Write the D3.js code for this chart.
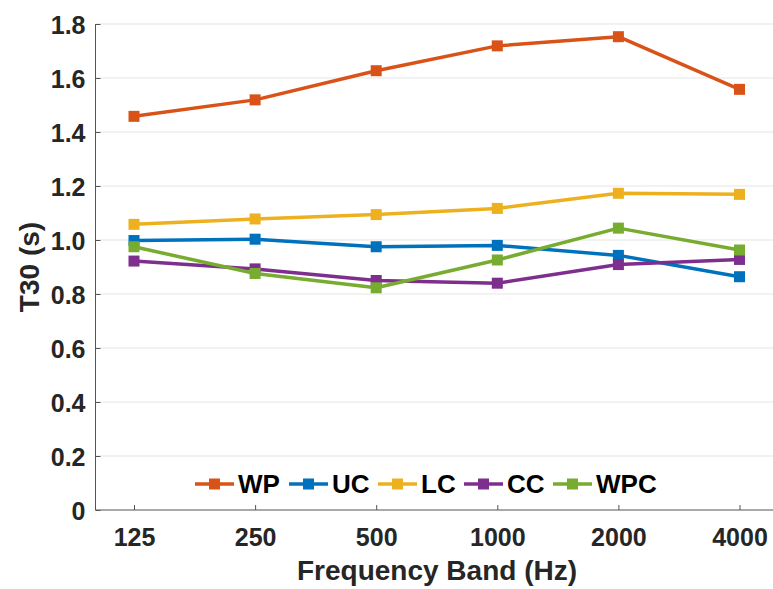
<!DOCTYPE html>
<html>
<head>
<meta charset="utf-8">
<script src="https://cdn.jsdelivr.net/npm/d3@7/dist/d3.min.js"></script>
<style>
  body { margin: 0; background: #fff; }
  svg { display: block; font-family: "Liberation Sans", Arial, sans-serif; }
</style>
</head>
<body>
<div id="chart"></div>
<script>
// frequency bands on the x axis
var bands = ["125", "250", "500", "1000", "2000", "4000"];
var yTicks = [0, 0.2, 0.4, 0.6, 0.8, 1.0, 1.2, 1.4, 1.6, 1.8];

// T30 values
var seriesNames = ["WP", "UC", "LC", "CC", "WPC"];
var seriesColors = ["#D95319", "#0072BD", "#EDB120", "#7E2F8E", "#77AC30"];
var wp  = [1.458, 1.519, 1.627, 1.719, 1.753, 1.558];
var uc  = [0.998, 1.003, 0.975, 0.980, 0.943, 0.864];
var lc  = [1.058, 1.078, 1.094, 1.117, 1.173, 1.169];
var cc  = [0.922, 0.893, 0.850, 0.840, 0.909, 0.928];
var wpc = [0.975, 0.876, 0.823, 0.926, 1.044, 0.963];
var seriesValues = [wp, uc, lc, cc, wpc];

var width = 773, height = 589;
var plotLeft = 95.5, plotRight = 773, plotTop = 24, plotBottom = 510;

var svg = d3.select("#chart").append("svg")
  .attr("width", width)
  .attr("height", height);

var x = d3.scalePoint().domain(bands).range([134, 739.5]);
var y = d3.scaleLinear().domain([0, 1.8]).range([plotBottom, plotTop]);

// grid lines
svg.append("g")
  .selectAll("line")
  .data(yTicks.filter(function(d) { return d > 0; }))
  .enter().append("line")
  .attr("x1", plotLeft).attr("x2", plotRight)
  .attr("y1", function(d) { return y(d); })
  .attr("y2", function(d) { return y(d); })
  .style("stroke", "#e6e6e6")
  .style("stroke-width", 1.2);

// y axis
var yAxis = svg.append("g")
  .attr("transform", "translate(" + plotLeft + ",0)")
  .call(d3.axisRight(y).tickValues(yTicks).tickSize(5).tickFormat(function(d) {
    return d === 0 ? "0" : d3.format(".1f")(d);
  }));
yAxis.select(".domain").attr("d", "M0," + plotTop + "V" + plotBottom).style("stroke", "#555");
yAxis.selectAll(".tick line").style("stroke", "#555");
yAxis.selectAll(".tick text")
  .attr("x", -10)
  .attr("text-anchor", "end")
  .attr("dy", "0.36em")
  .style("font-size", "25px")
  .style("font-weight", "bold")
  .style("fill", "#262626");

// x axis
var xAxis = svg.append("g")
  .attr("transform", "translate(0," + plotBottom + ")")
  .call(d3.axisTop(x).tickSize(5));
xAxis.select(".domain").attr("d", "M" + plotLeft + ",0H" + plotRight).style("stroke", "#555");
xAxis.selectAll(".tick line").style("stroke", "#555");
xAxis.selectAll(".tick text")
  .attr("y", 36)
  .attr("dy", 0)
  .style("font-size", "25px")
  .style("font-weight", "bold")
  .style("fill", "#262626");

// axis titles
svg.append("text")
  .attr("x", 437)
  .attr("y", 580)
  .attr("text-anchor", "middle")
  .style("font-size", "28px")
  .style("font-weight", "bold")
  .style("fill", "#262626")
  .text("Frequency Band (Hz)");

svg.append("text")
  .attr("transform", "translate(39," + ((plotTop + plotBottom) / 2) + ") rotate(-90)")
  .attr("text-anchor", "middle")
  .style("font-size", "28px")
  .style("font-weight", "bold")
  .style("fill", "#262626")
  .text("T30 (s)");

// lines and markers
var line = d3.line()
  .x(function(d, i) { return x(bands[i]); })
  .y(function(d) { return y(d); });

var ms = 11;
seriesValues.forEach(function(vals, k) {
  var g = svg.append("g");
  g.append("path")
    .datum(vals)
    .attr("d", line)
    .style("fill", "none")
    .style("stroke", seriesColors[k])
    .style("stroke-width", 3.5)
    .style("stroke-linejoin", "round");
  g.selectAll("rect")
    .data(vals)
    .enter().append("rect")
    .attr("x", function(d, i) { return x(bands[i]) - ms / 2; })
    .attr("y", function(d) { return y(d) - ms / 2; })
    .attr("width", ms).attr("height", ms)
    .style("fill", seriesColors[k]);
});

// legend
var legendX = [195, 289, 378, 464, 553];
var legendY = 484;
var legend = svg.append("g")
  .selectAll("g")
  .data(seriesNames)
  .enter().append("g")
  .attr("transform", function(d, i) { return "translate(" + legendX[i] + "," + legendY + ")"; });
legend.append("line")
  .attr("x1", 0).attr("x2", 39)
  .style("stroke", function(d, i) { return seriesColors[i]; })
  .style("stroke-width", 3.5);
legend.append("rect")
  .attr("x", 19.5 - ms / 2).attr("y", -ms / 2)
  .attr("width", ms).attr("height", ms)
  .style("fill", function(d, i) { return seriesColors[i]; });
legend.append("text")
  .attr("x", 43)
  .attr("dy", "0.36em")
  .style("font-size", "26px")
  .style("font-weight", "bold")
  .style("fill", "#000")
  .text(function(d) { return d; });
</script>
</body>
</html>
